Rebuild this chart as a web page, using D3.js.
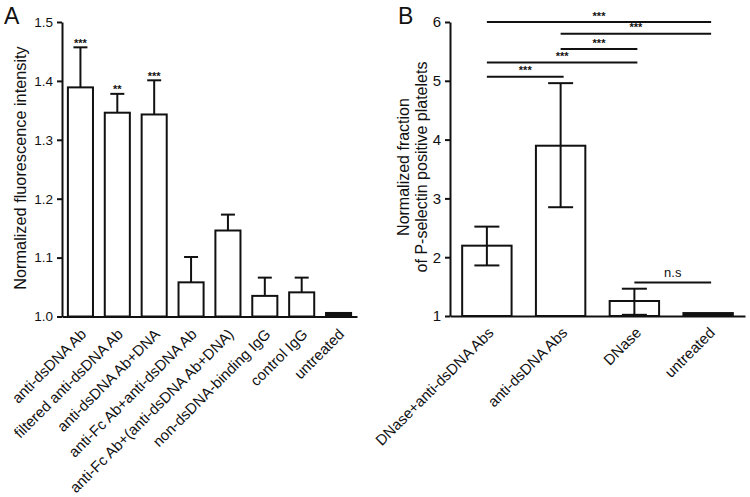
<!DOCTYPE html>
<html><head><meta charset="utf-8">
<script src="https://cdn.jsdelivr.net/npm/d3@7"></script>
<style>body{margin:0;background:#fff} text{font-family:Arial,"Liberation Sans",sans-serif;fill:#111}</style>
</head><body><svg id="c" width="750" height="497"></svg>
<script>
// Panel A data
const catsA = ["anti-dsDNA Ab","filtered anti-dsDNA Ab","anti-dsDNA Ab+DNA","anti-Fc Ab+anti-dsDNA Ab","anti-Fc Ab+(anti-dsDNA Ab+DNA)","non-dsDNA-binding IgG","control IgG","untreated"];
const valsA = [1.389, 1.346, 1.343, 1.058, 1.146, 1.035, 1.041, 1.006];
const errHiA = [1.457, 1.378, 1.401, 1.101, 1.173, 1.066, 1.066, 1.006];
const starsA = ["***","**","***","","","","",""];
const ticksA = [1.0, 1.1, 1.2, 1.3, 1.4, 1.5];
// Panel B data
const catsB = ["DNase+anti-dsDNA Abs","anti-dsDNA Abs","DNase","untreated"];
const valsB = [2.196, 3.896, 1.255, 1.05];
const errLoB = [1.86, 2.85, 1.02, 1.05];
const errHiB = [2.52, 4.96, 1.464, 1.05];
const ticksB = [1, 2, 3, 4, 5, 6];
// significance comparisons: [from index, to index, level (data units), label]
const sigB = [[0,3,6.0,"***"],[1,3,5.8,"***"],[1,2,5.54,"***"],[0,2,5.31,"***"],[0,1,5.07,"***"],[2,3,1.57,"n.s"]];

const svg = d3.select("#c");
svg.append("rect").attr("width",750).attr("height",497).attr("fill","#fff");

function panel(o){
  const g = svg.append("g");
  const x = d3.scaleBand().domain(o.cats).range(o.xr).paddingInner(o.pi).paddingOuter(o.po);
  const y = d3.scaleLinear().domain(o.yd).range(o.yr);
  const ya = g.append("g").attr("transform",`translate(${o.xr[0]},0)`)
    .call(d3.axisLeft(y).tickValues(o.ticks).tickFormat(o.fmt).tickSize(5).tickSizeOuter(0).tickPadding(4));
  ya.selectAll("path,line").attr("stroke","#111").attr("stroke-width",2);
  ya.selectAll("text").style("font-size",o.tickFs+"px");
  const xa = g.append("g").attr("transform",`translate(0,${y(o.yd[0])})`)
    .call(d3.axisBottom(x).tickSize(0).tickSizeOuter(0).tickPadding(0));
  xa.select("path").attr("stroke","#111").attr("stroke-width",2);
  xa.selectAll("text").style("font-size",o.labFs+"px").attr("text-anchor","end")
    .attr("y",0).attr("dy","0.35em")
    .attr("transform",`translate(${o.lx},${o.ly}) rotate(-45)`);
  return {g,x,y};
}

// Panel A
const A = panel({cats:catsA, xr:[62,357], pi:0.32, po:0.16, yd:[1.0,1.5], yr:[316.5,22], ticks:ticksA, fmt:d3.format(".1f"), tickFs:13.5, labFs:15, lx:3, ly:15});
A.g.selectAll(".bar").data(catsA).join("rect")
  .attr("x",d=>A.x(d)).attr("width",A.x.bandwidth())
  .attr("y",(d,i)=>A.y(valsA[i])).attr("height",(d,i)=>A.y(1.0)-A.y(valsA[i]))
  .attr("fill",(d,i)=>i===7?"#111":"#fff").attr("stroke","#111").attr("stroke-width",2);
catsA.forEach((c,i)=>{
  if(errHiA[i]<=valsA[i]) return;
  const cx = A.x(c)+A.x.bandwidth()/2;
  A.g.append("line").attr("x1",cx).attr("x2",cx).attr("y1",A.y(valsA[i])).attr("y2",A.y(errHiA[i])).attr("stroke","#111").attr("stroke-width",2);
  A.g.append("line").attr("x1",cx-7).attr("x2",cx+7).attr("y1",A.y(errHiA[i])).attr("y2",A.y(errHiA[i])).attr("stroke","#111").attr("stroke-width",2);
  if(starsA[i]) A.g.append("text").attr("x",cx).attr("y",A.y(errHiA[i])-0.5).attr("text-anchor","middle").style("font-size","11px").style("font-weight","bold").text(starsA[i]);
});
A.g.append("text").attr("transform","translate(26,168) rotate(-90)").attr("text-anchor","middle").style("font-size","16.3px").text("Normalized fluorescence intensity");
svg.append("text").attr("x",4).attr("y",24).style("font-size","23px").text("A");

// Panel B
const B = panel({cats:catsB, xr:[450,745], pi:0.33, po:0.165, yd:[1,6], yr:[316,22], ticks:ticksB, fmt:d3.format("d"), tickFs:15, labFs:15, lx:4, ly:14});
B.g.selectAll(".bar").data(catsB).join("rect")
  .attr("x",d=>B.x(d)).attr("width",B.x.bandwidth())
  .attr("y",(d,i)=>B.y(valsB[i])).attr("height",(d,i)=>B.y(1)-B.y(valsB[i]))
  .attr("fill",(d,i)=>i===3?"#111":"#fff").attr("stroke","#111").attr("stroke-width",2);
catsB.forEach((c,i)=>{
  if(errHiB[i]<=errLoB[i]) return;
  const cx = B.x(c)+B.x.bandwidth()/2;
  B.g.append("line").attr("x1",cx).attr("x2",cx).attr("y1",B.y(errLoB[i])).attr("y2",B.y(errHiB[i])).attr("stroke","#111").attr("stroke-width",2);
  [errLoB[i],errHiB[i]].forEach(v=>B.g.append("line").attr("x1",cx-12.5).attr("x2",cx+12.5).attr("y1",B.y(v)).attr("y2",B.y(v)).attr("stroke","#111").attr("stroke-width",2));
});
sigB.forEach(([a,b,lv,lab])=>{
  const x1 = B.x(catsB[a])+B.x.bandwidth()/2, x2 = B.x(catsB[b])+B.x.bandwidth()/2+3;
  B.g.append("line").attr("x1",x1).attr("x2",x2).attr("y1",B.y(lv)).attr("y2",B.y(lv)).attr("stroke","#111").attr("stroke-width",2);
  B.g.append("text").attr("x",(x1+x2)/2).attr("y",B.y(lv)-(lab==="n.s"?5:2.5)).attr("text-anchor","middle")
    .style("font-size",lab==="n.s"?"13px":"11px").style("font-weight",lab==="n.s"?"normal":"bold").text(lab);
});
B.g.append("text").attr("transform","translate(409,167) rotate(-90)").attr("text-anchor","middle").style("font-size","16px").text("Normalized fraction");
B.g.append("text").attr("transform","translate(427,167) rotate(-90)").attr("text-anchor","middle").style("font-size","16px").text("of P-selectin positive platelets");
svg.append("text").attr("x",398).attr("y",24).style("font-size","23px").text("B");
</script></body></html>
